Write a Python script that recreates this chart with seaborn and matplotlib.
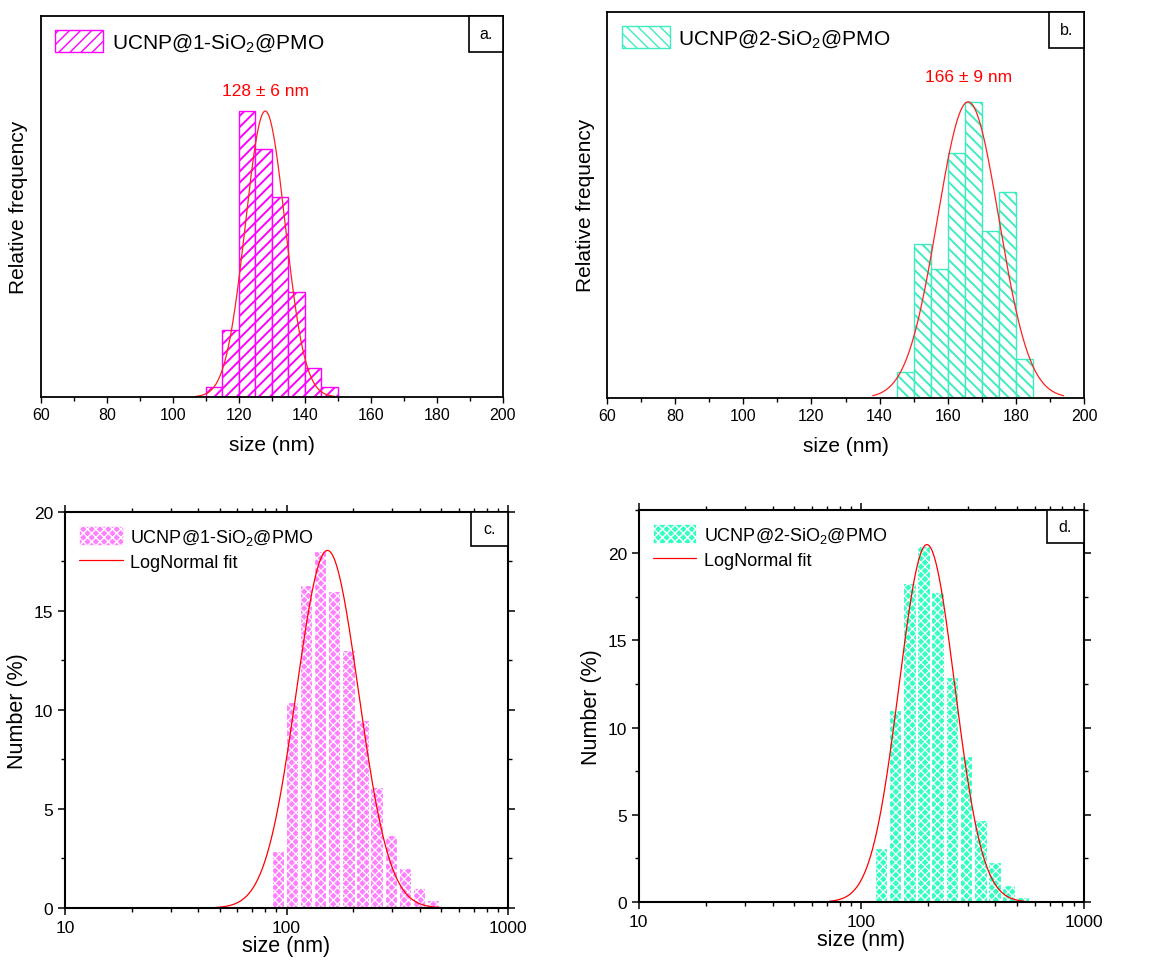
import numpy as np
import matplotlib
matplotlib.use('Agg')
import matplotlib.pyplot as plt
from matplotlib.patches import Patch, Rectangle
from matplotlib.lines import Line2D
from matplotlib.ticker import MultipleLocator, LogLocator, NullFormatter
import seaborn as sns

# ---- panels a / b : TEM size histograms (counts per 5 nm bin) ----
a_edges = [110, 115, 120, 125, 130, 135, 140, 145, 150]
a_counts = [1, 7, 30, 26, 21, 11, 3, 1]
b_edges = [145, 150, 155, 160, 165, 170, 175, 180, 185]
b_counts = [2, 12, 10, 19, 23, 13, 16, 3]

# gaussian fits: mean, sd, peak height
a_fit = (128, 6, 30.0)
b_fit = (166, 9, 23.0)
a_fit_range = (107, 149)
b_fit_range = (138, 194)

# ---- panels c / d : DLS number distributions ----
c_sizes = [91.28, 105.7, 122.4, 141.8, 164.2, 190.1, 220.2, 255.0, 295.3, 342.0, 396.1, 458.7, 531.2]
c_number = [2.9, 10.4, 16.3, 18.0, 16.0, 13.0, 9.5, 6.1, 3.7, 2.0, 1.0, 0.4, 0.12]
d_sizes = [122.4, 141.8, 164.2, 190.1, 220.2, 255.0, 295.3, 342.0, 396.1, 458.7, 531.2]
d_number = [3.1, 11.0, 18.3, 20.4, 17.8, 12.9, 8.4, 4.7, 2.3, 0.95, 0.3]

# lognormal fits: centre (nm), sigma (log10), peak height
c_fit = (153, 0.14, 18.05)
d_fit = (197, 0.125, 20.5)
c_fit_range = (48, 500)
d_fit_range = (72, 540)

labels = ['UCNP@1-SiO$_2$@PMO', 'UCNP@2-SiO$_2$@PMO']
magenta = '#FF00FF'
aqua = '#3DEDC0'
pink_fill = '#FF80FF'
aqua_fill = '#33FFC2'

sns.set_style('ticks')
plt.rcParams['font.family'] = ['Liberation Sans', 'DejaVu Sans']
plt.rcParams['mathtext.fontset'] = 'custom'
plt.rcParams['mathtext.rm'] = 'Liberation Sans'
plt.rcParams['mathtext.it'] = 'Liberation Sans:italic'
plt.rcParams['hatch.linewidth'] = 1.0
for key in ['text.color', 'axes.labelcolor', 'xtick.color', 'ytick.color',
            'axes.edgecolor']:
    plt.rcParams[key] = 'black'


def tag_box(ax, text, w, h):
    ax.add_patch(Rectangle((1 - w, 1 - h), w, h, transform=ax.transAxes,
                           facecolor='white', edgecolor='black', lw=1.2,
                           zorder=5, clip_on=False))
    ax.text(1 - w / 2, 1 - h / 2, text, transform=ax.transAxes, ha='center',
            va='center', fontsize=11.5, zorder=6)


def tem_panel(ax, edges, counts, fit, fit_range, color, hatch, label, tag, ymax):
    centers = [(lo + hi) / 2 for lo, hi in zip(edges[:-1], edges[1:])]
    with plt.rc_context({'hatch.linewidth': 1.4}):
        sns.histplot(x=centers, weights=counts, bins=list(edges), ax=ax,
                     facecolor='white', edgecolor=color, linewidth=1.0,
                     hatch=hatch)
        handle = Patch(facecolor='white', edgecolor=color, hatch=hatch, lw=1.0)
    mu, sd, amp = fit
    xs = np.linspace(fit_range[0], fit_range[1], 300)
    ys = amp * np.exp(-0.5 * ((xs - mu) / sd) ** 2)
    sns.lineplot(x=xs, y=ys, ax=ax, color='#FF2020', linewidth=0.9)
    ax.text(mu, amp + 1.4, f'{mu} \u00b1 {sd} nm', color='red', fontsize=12.5,
            ha='center', va='bottom')

    ax.set_xlim(60, 200)
    ax.set_ylim(0, ymax)
    ax.xaxis.set_major_locator(MultipleLocator(20))
    ax.xaxis.set_minor_locator(MultipleLocator(10))
    ax.set_yticks([])
    ax.tick_params(axis='x', which='both', direction='out', labelsize=11.5)
    ax.tick_params(axis='x', which='major', length=4, width=1.0)
    ax.tick_params(axis='x', which='minor', length=3, width=1.0)
    for s in ax.spines.values():
        s.set_visible(True)
        s.set_linewidth(1.3)
    ax.set_xlabel('size (nm)', fontsize=15, labelpad=9)
    ax.set_ylabel('Relative frequency', fontsize=15, labelpad=9)

    ax.legend([handle], [label], loc='upper left', frameon=False, fontsize=15,
              handlelength=2.3, handleheight=1.2, handletextpad=0.4,
              borderaxespad=0.3)
    tag_box(ax, tag, 0.074, 0.094)


def dls_panel(ax, sizes, number, fit, fit_range, fill, label, tag, ymax):
    log_c = np.log10(sizes)
    step = np.mean(np.diff(log_c))
    log_edges = np.append(log_c - step / 2, log_c[-1] + step / 2)
    with plt.rc_context({'hatch.linewidth': 0.9}):
        sns.histplot(x=sizes, weights=number, bins=log_edges.tolist(),
                     log_scale=True, ax=ax, facecolor=fill, edgecolor='white',
                     linewidth=0.8, hatch='xxxx', shrink=0.88)
        box = Patch(facecolor=fill, edgecolor='white', hatch='xxxx', lw=0.5)
    xc, sig, amp = fit
    xs = np.geomspace(fit_range[0], fit_range[1], 400)
    ys = amp * np.exp(-0.5 * ((np.log10(xs) - np.log10(xc)) / sig) ** 2)
    sns.lineplot(x=xs, y=ys, ax=ax, color='red', linewidth=0.9)

    ax.set_xlim(10, 1000)
    ax.set_ylim(0, ymax)
    ax.set_xticks([10, 100, 1000], labels=['10', '100', '1000'])
    ax.xaxis.set_minor_locator(LogLocator(base=10, subs=np.arange(2, 10)))
    ax.xaxis.set_minor_formatter(NullFormatter())
    ax.yaxis.set_major_locator(MultipleLocator(5))
    ax.yaxis.set_minor_locator(MultipleLocator(2.5))
    ax.tick_params(which='both', direction='out', top=True, right=True,
                   labelsize=12.5)
    ax.tick_params(which='major', length=5, width=1.1)
    ax.tick_params(which='minor', length=3, width=1.0)
    for s in ax.spines.values():
        s.set_visible(True)
        s.set_linewidth(1.5)
    ax.set_xlabel('size (nm)', fontsize=15.5, labelpad=0)
    ax.set_ylabel('Number (%)', fontsize=15.5, labelpad=4)

    handles = [box, Line2D([], [], color='red', lw=0.9)]
    ax.legend(handles, [label, 'LogNormal fit'], loc='upper left', frameon=False,
              fontsize=13, handlelength=2.4, handleheight=1.2, handletextpad=0.4,
              labelspacing=0.3, borderaxespad=0.4)
    tag_box(ax, tag, 0.084, 0.086)


fig = plt.figure(figsize=(11.51, 9.62), dpi=100)
ax_a = fig.add_axes([0.0354, 0.5863, 0.4016, 0.3963])
ax_b = fig.add_axes([0.5274, 0.5852, 0.4144, 0.4016])
ax_c = fig.add_axes([0.0565, 0.0551, 0.3849, 0.4119])
ax_d = fig.add_axes([0.5549, 0.0613, 0.3869, 0.4078])

tem_panel(ax_a, a_edges, a_counts, a_fit, a_fit_range, magenta, '///',
          labels[0], 'a.', 40)
tem_panel(ax_b, b_edges, b_counts, b_fit, b_fit_range, aqua, '\\' * 3,
          labels[1], 'b.', 30)
dls_panel(ax_c, c_sizes, c_number, c_fit, c_fit_range, pink_fill,
          labels[0], 'c.', 20)
dls_panel(ax_d, d_sizes, d_number, d_fit, d_fit_range, aqua_fill,
          labels[1], 'd.', 22.5)

fig.savefig('out.png', dpi=100)
